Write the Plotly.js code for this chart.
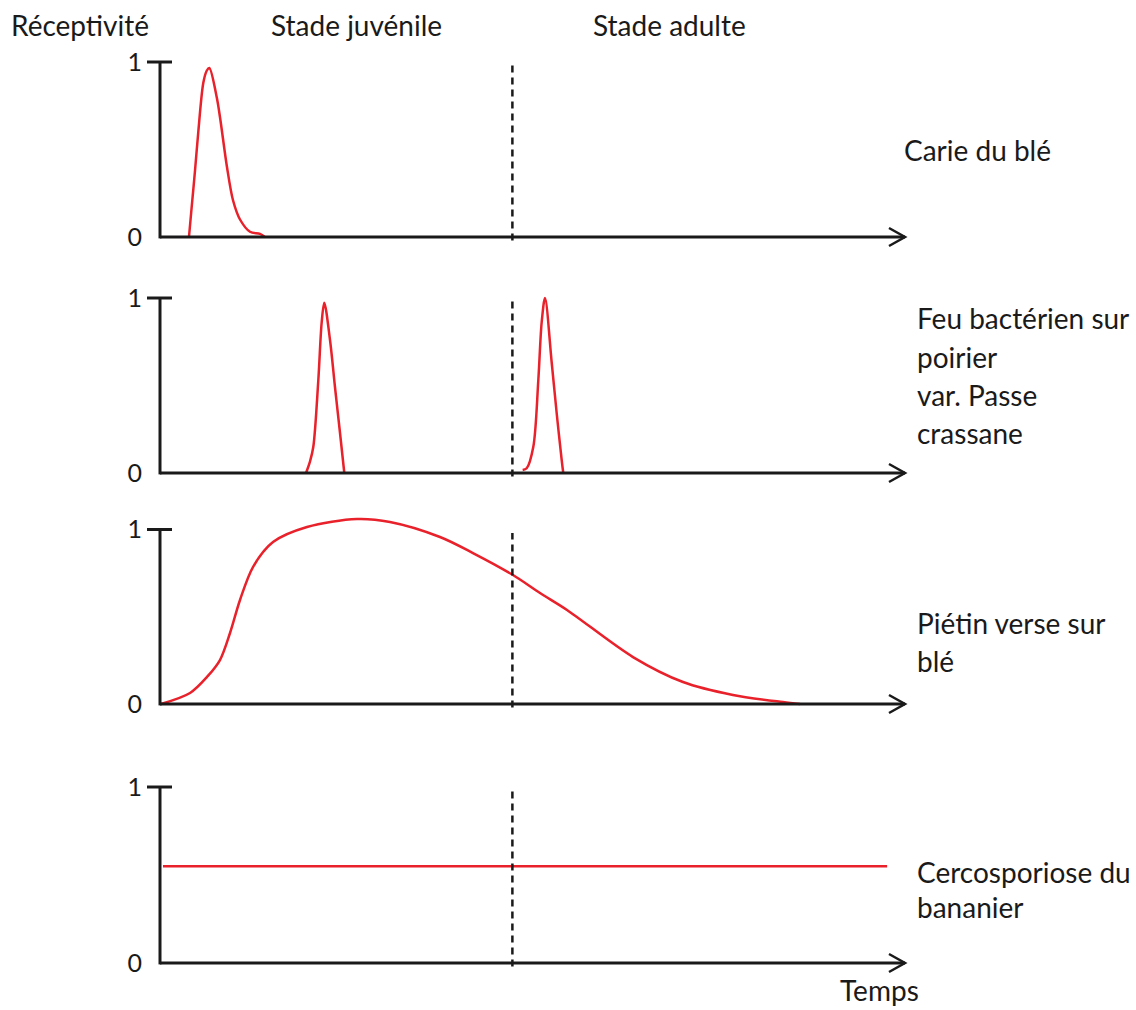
<!DOCTYPE html>
<html><head><meta charset="utf-8">
<script src="https://cdn.plot.ly/plotly-3.0.1.min.js"></script>
<style>html,body{margin:0;padding:0;background:#fff;}</style>
</head><body>
<div id="chart" style="width:1136px;height:1010px;"></div>
<script>
// ---------------- DATA ----------------
const tickVals = [0, 1];
const tickText = ['0', '1'];
const stageBoundary = 47.3;   // limite stade juvénile / stade adulte (temps)
const timeEnd = 100;          // bout de l'axe des temps

// Carie du blé
const carieT = [3.89, 4.25, 4.70, 5.14, 5.81, 6.27, 6.62, 7.61, 8.05, 8.99, 9.80, 10.74, 12.08, 13.42, 14.09];
const carieV = [0, 0.17, 0.38, 0.60, 0.88, 0.95, 0.966, 0.80, 0.686, 0.40, 0.21, 0.10, 0.03, 0.018, 0];

// Feu bactérien sur poirier var. Passe crassane (deux pics)
const feuT = [19.60, 20.13, 20.58, 21.25, 21.70, 22.05, 22.82, 23.49, 24.16, 24.74, null,
              48.68, 49.22, 50.11, 50.78, 51.23, 51.68, 52.58, 53.25, 53.92, 54.13];
const feuV = [0, 0.065, 0.15, 0.53, 0.86, 0.973, 0.76, 0.49, 0.23, 0, null,
              0.017, 0.027, 0.15, 0.53, 0.86, 1.0, 0.63, 0.34, 0.074, 0];

// Piétin verse sur blé
const pietinT = [0.13, 4.03, 6.31, 8.05, 9.40, 10.74, 12.48, 15.17, 19.73, 26.44, 30.87, 37.58, 42.01, 47.38, 51.01, 54.63, 63.49, 70.20, 76.91, 83.62, 85.91];
const pietinV = [0, 0.063, 0.155, 0.252, 0.407, 0.596, 0.785, 0.928, 1.014, 1.060, 1.043, 0.957, 0.865, 0.739, 0.636, 0.539, 0.269, 0.126, 0.052, 0.011, 0];

// Cercosporiose du bananier
const cercoT = [0.4, 97.6];
const cercoV = [0.55, 0.55];

const diseaseLines = [
  ['Carie du blé'],
  ['Feu bactérien sur', 'poirier', 'var. Passe', 'crassane'],
  ['Piétin verse sur', 'blé'],
  ['Cercosporiose du', 'bananier']
];
const yTitle = 'Réceptivité';
const xTitle = 'Temps';
const stageLabels = ['Stade juvénile', 'Stade adulte'];

// ---------------- LAYOUT HELPERS ----------------
const W = 1136, H = 1010;
const RED = '#e8212b', INK = '#1a1a1a';
const FONT = 'Lato, "Open Sans", sans-serif';
const FS = 28;
const pxPerUnit = 7.45, x0px = 160;
const px = v => v / W, py = v => 1 - v / H;

// base pixel (0), top pixel (1), domain top, domain bottom
const panels = [
  {B: 237, T: 62,    dT: 45,  dB: 252, labelY: [150]},
  {B: 473, T: 298,   dT: 282, dB: 488, labelY: [317.5, 356.5, 395, 433.5]},
  {B: 704, T: 529.5, dT: 505, dB: 718, labelY: [623, 661]},
  {B: 963, T: 787,   dT: 770, dB: 978, labelY: [872, 907]}
];
const series = [[carieT, carieV], [feuT, feuV], [pietinT, pietinV], [cercoT, cercoV]];

const layout = {
  width: W, height: H,
  margin: {l: 0, r: 0, t: 0, b: 0},
  paper_bgcolor: '#fff', plot_bgcolor: 'rgba(0,0,0,0)',
  showlegend: false,
  font: {family: FONT, color: INK},
  xaxis: {
    domain: [px(120), px(930)],
    range: [(120 - x0px) / pxPerUnit, (930 - x0px) / pxPerUnit],
    visible: false, fixedrange: true
  },
  shapes: [], annotations: []
};

const traces = [];
panels.forEach((p, i) => {
  const s = p.B - p.T;
  const yName = i === 0 ? 'yaxis' : 'yaxis' + (i + 1);
  const yRef = i === 0 ? 'y' : 'y' + (i + 1);
  layout[yName] = {
    domain: [py(p.dB), py(p.dT)],
    range: [(p.B - p.dB) / s, (p.B - p.dT) / s],
    anchor: 'free', position: px(x0px),
    tickvals: tickVals, ticktext: tickText,
    ticks: '', showgrid: false, zeroline: false, showline: false,
    ticklabelstandoff: 18,
    tickfont: {family: FONT, size: 25, color: INK},
    fixedrange: true
  };
  const ln = {color: INK, width: 3};
  layout.shapes.push(
    {type: 'line', xref: 'x', yref: yRef, x0: 0, x1: 0, y0: -0.008, y1: 1, line: ln},
    {type: 'line', xref: 'x', yref: yRef, xsizemode: 'pixel', xanchor: 0, x0: -13, x1: 12, y0: 1, y1: 1, line: ln},
    {type: 'line', xref: 'x', yref: yRef, x0: 0, x1: timeEnd, y0: 0, y1: 0, line: ln},
    {type: 'path', xref: 'x', yref: yRef, xsizemode: 'pixel', ysizemode: 'pixel', xanchor: timeEnd, yanchor: 0,
     path: 'M-16,9 L0,0 L-16,-9', line: {color: INK, width: 2.5}},
    {type: 'line', xref: 'x', yref: yRef, x0: stageBoundary, x1: stageBoundary, y0: -0.02, y1: 0.98,
     line: {color: INK, width: 2.5, dash: '7px,5px'}}
  );
  traces.push({
    type: 'scatter', mode: 'lines', x: series[i][0], y: series[i][1],
    xaxis: 'x', yaxis: yRef, connectgaps: false,
    line: {color: RED, width: 2.5, shape: 'spline', smoothing: 0.9},
    hoverinfo: 'skip'
  });
  diseaseLines[i].forEach((t, k) => {
    layout.annotations.push({
      xref: 'paper', yref: 'paper', x: px(i === 0 ? 902 : 915), y: py(p.labelY[k]),
      xanchor: 'left', yanchor: 'middle', text: t, showarrow: false,
      font: {family: FONT, size: FS, color: INK}
    });
  });
});

const topTexts = [[yTitle, 9], [stageLabels[0], 269], [stageLabels[1], 591]];
topTexts.forEach(([t, x]) => layout.annotations.push({
  xref: 'paper', yref: 'paper', x: px(x), y: py(25), xanchor: 'left', yanchor: 'middle',
  text: t, showarrow: false, font: {family: FONT, size: FS, color: INK}
}));
layout.annotations.push({
  xref: 'paper', yref: 'paper', x: px(838), y: py(990), xanchor: 'left', yanchor: 'middle',
  text: xTitle, showarrow: false, font: {family: FONT, size: FS, color: INK}
});

Plotly.newPlot('chart', traces, layout, {displayModeBar: false, staticPlot: true});
</script>
</body></html>
